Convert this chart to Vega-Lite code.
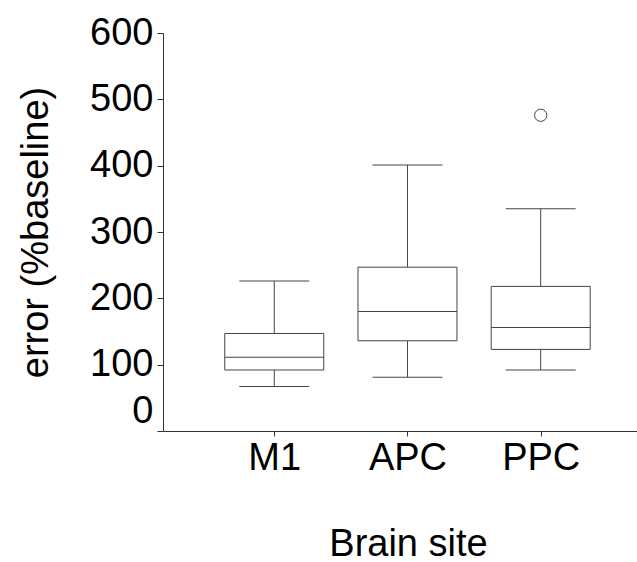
{
  "$schema": "https://vega.github.io/schema/vega-lite/v6.json",
  "width": 474,
  "height": 398,
  "autosize": {"type": "none"},
  "padding": {"left": 163, "top": 33, "right": 0, "bottom": 131},
  "background": "white",
  "config": {
    "view": {"stroke": null},
    "font": "Liberation Sans",
    "axis": {
      "grid": false,
      "domainColor": "#333333",
      "tickColor": "#333333",
      "labelFont": "Liberation Sans",
      "titleFont": "Liberation Sans",
      "labelFontSize": 38,
      "titleFontSize": 38,
      "labelColor": "black",
      "titleColor": "black",
      "titleFontWeight": "normal",
      "domainWidth": 1,
      "tickWidth": 1
    }
  },
  "datasets": {
    "stats": [
      {"site": "M1", "lower": 67, "q1": 92, "median": 111, "q3": 147, "upper": 226},
      {"site": "APC", "lower": 81, "q1": 136, "median": 180, "q3": 247, "upper": 401},
      {"site": "PPC", "lower": 92, "q1": 123, "median": 156, "q3": 218, "upper": 335}
    ],
    "outliers": [
      {"site": "PPC", "value": 476}
    ]
  },
  "encoding": {
    "x": {
      "field": "site",
      "type": "nominal",
      "sort": ["M1", "APC", "PPC"],
      "scale": {"type": "point", "padding": 0.779, "align": 0.536},
      "axis": {
        "title": "Brain site",
        "labelAngle": 0,
        "tickSize": 5,
        "labelPadding": 3,
        "titlePadding": 48,
        "titleX": 245
      }
    }
  },
  "layer": [
    {
      "data": {"name": "stats"},
      "mark": {"type": "rule", "color": "#444444", "strokeWidth": 1},
      "encoding": {
        "y": {
          "field": "lower",
          "type": "quantitative",
          "scale": {"domain": [0, 600], "nice": false},
          "axis": {
            "title": "error (%baseline)",
            "values": [0, 100, 200, 300, 400, 500, 600],
            "tickSize": 6,
            "labelPadding": 4,
            "titlePadding": 34,
            "labelOffset": {"condition": {"test": "datum.value === 0", "value": -20}, "value": 0}
          }
        },
        "y2": {"field": "upper"}
      }
    },
    {
      "data": {"name": "stats"},
      "mark": {"type": "bar", "width": 99, "fill": "white", "stroke": "#444444", "strokeWidth": 1},
      "encoding": {
        "y": {"field": "q1", "type": "quantitative"},
        "y2": {"field": "q3"}
      }
    },
    {
      "data": {"name": "stats"},
      "mark": {"type": "tick", "size": 99, "thickness": 1, "color": "#444444", "opacity": 1},
      "encoding": {
        "y": {"field": "median", "type": "quantitative"}
      }
    },
    {
      "data": {"name": "stats"},
      "mark": {"type": "tick", "size": 70, "thickness": 1, "color": "#444444", "opacity": 1},
      "encoding": {
        "y": {"field": "upper", "type": "quantitative"}
      }
    },
    {
      "data": {"name": "stats"},
      "mark": {"type": "tick", "size": 70, "thickness": 1, "color": "#444444", "opacity": 1},
      "encoding": {
        "y": {"field": "lower", "type": "quantitative"}
      }
    },
    {
      "data": {"name": "outliers"},
      "mark": {"type": "point", "shape": "circle", "size": 150, "filled": false, "stroke": "#444444", "strokeWidth": 1, "opacity": 1},
      "encoding": {
        "y": {"field": "value", "type": "quantitative"}
      }
    }
  ]
}
